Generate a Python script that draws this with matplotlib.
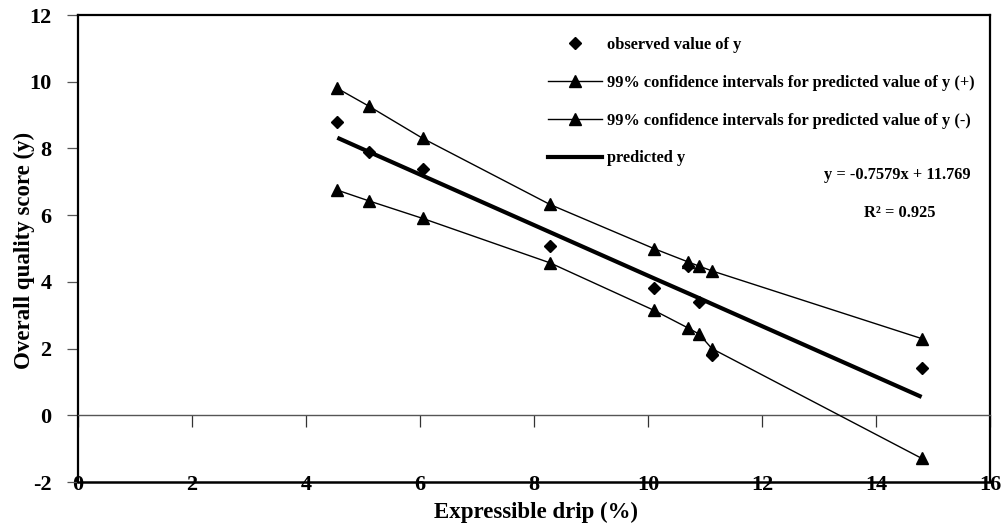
import matplotlib
matplotlib.use('Agg')
import matplotlib.pyplot as plt
from matplotlib.lines import Line2D

# expressible drip (%) and the scores
drip = [4.55, 5.1, 6.05, 8.28, 10.1, 10.7, 10.9, 11.12, 14.8]
observed = [8.8, 7.9, 7.37, 5.08, 3.82, 4.47, 3.4, 1.8, 1.42]
ci_upper = [9.8, 9.27, 8.3, 6.32, 5.0, 4.6, 4.47, 4.33, 2.3]
ci_lower = [6.75, 6.43, 5.9, 4.57, 3.15, 2.62, 2.43, 2.0, -1.29]
predicted = [8.32, 7.9, 7.18, 5.49, 4.11, 3.66, 3.51, 3.34, 0.55]

x_ticks = list(range(0, 17, 2))
y_ticks = list(range(-2, 13, 2))

labels = ['observed value of y',
          '99% confidence intervals for predicted value of y (+)',
          '99% confidence intervals for predicted value of y (-)',
          'predicted y']
eq_text = 'y = -0.7579x + 11.769'
r2_text = 'R\u00b2 = 0.925'

plt.rcParams['font.family'] = ['Liberation Serif', 'DejaVu Serif']
plt.rcParams['font.weight'] = 'bold'
plt.rcParams['axes.unicode_minus'] = False

W, H = 1005, 530
fig = plt.figure(figsize=(W / 100, H / 100), dpi=100)
ax = fig.add_axes([78 / W, (H - 482) / H, (990 - 78) / W, (482 - 15) / H])

ax.plot(drip, ci_upper, color='black', lw=1.0, marker='^', ms=9, zorder=3)
ax.plot(drip, ci_lower, color='black', lw=1.0, marker='^', ms=9, zorder=3)
ax.plot(drip, predicted, color='black', lw=3.0, solid_capstyle='butt', zorder=2)
ax.plot(drip, observed, ls='none', color='black', marker='D', ms=6.3, zorder=4)

ax.set_xlim(0, 16)
ax.set_ylim(-2, 12)

# x axis crosses at y = 0, labels sit on the bottom frame
ax.spines['bottom'].set_position(('data', 0))
ax.spines['bottom'].set_color('#555555')
ax.spines['bottom'].set_linewidth(1.0)
ax.set_xticks(x_ticks)
ax.tick_params(axis='x', direction='out', length=8.5, width=0.9, color='#333333',
               labelbottom=False)

sec = ax.secondary_xaxis('bottom')
sec.set_xticks(x_ticks)
sec.tick_params(length=0, pad=-5, labelsize=16)
sec.spines['bottom'].set_linewidth(1.8)

for side in ['left', 'top', 'right']:
    ax.spines[side].set_linewidth(1.6)
ax.set_yticks(y_ticks)
ax.tick_params(axis='y', direction='out', length=8, width=0.9, color='#555555',
               pad=11, labelsize=16)

fig.text(536 / W, 1 - 518 / H, 'Expressible drip (%)', ha='center', va='baseline',
         fontsize=16.5, fontweight='bold')
fig.text(24 / W, 1 - 250 / H, 'Overall quality score (y)', ha='center', va='center',
         rotation=90, fontsize=16.5, fontweight='bold')

handles = [Line2D([], [], ls='none', color='black', marker='D', ms=6.3),
           Line2D([], [], color='black', lw=1.0, marker='^', ms=9),
           Line2D([], [], color='black', lw=1.0, marker='^', ms=9),
           Line2D([], [], color='black', lw=3.0)]
ax.legend(handles, labels, loc='upper left', bbox_to_anchor=(548 / W, 1 - 37 / H),
          bbox_transform=fig.transFigure, frameon=False, fontsize=11.8,
          handlelength=3.3, handletextpad=0.3, labelspacing=1.33, borderpad=0,
          borderaxespad=0, numpoints=1)

fig.text(897 / W, 1 - 175 / H, eq_text, ha='center', va='center', fontsize=11.8,
         fontweight='bold')
fig.text(900 / W, 1 - 213 / H, r2_text, ha='center', va='center', fontsize=11.8,
         fontweight='bold')

fig.savefig('out.png', dpi=100)
